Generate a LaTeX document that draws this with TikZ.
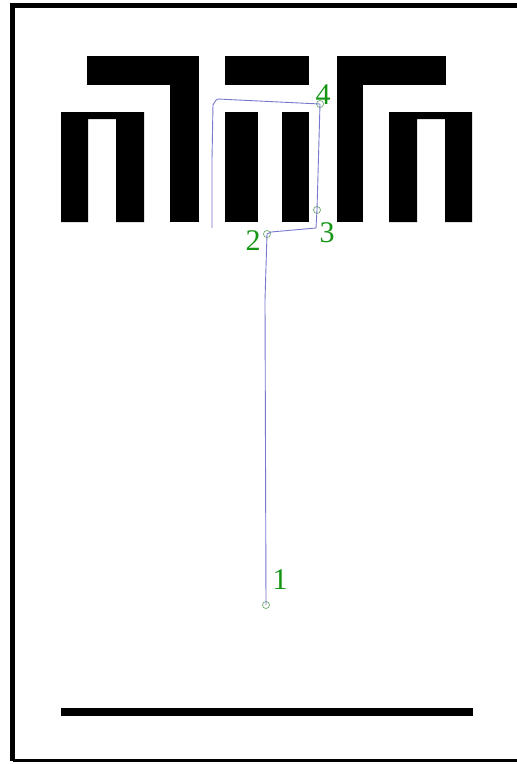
\documentclass[tikz,border=0pt]{standalone}
\usepackage{fontspec}
\setmainfont{Liberation Serif}
\begin{document}
\begin{tikzpicture}[x=1pt,y=-1pt,
  wall/.style={fill=black,draw=none},
  trace/.style={draw={rgb,255:red,120;green,120;blue,205},line width=0.9pt,line join=round},
  mark circ/.style={circle,draw={rgb,255:red,110;green,170;blue,110},line width=0.7pt,minimum size=7pt,inner sep=0pt},
  lab/.style={text={rgb,255:red,20;green,150;blue,20},font=\fontsize{30}{30}\selectfont,inner sep=0pt}]
\useasboundingbox (0,0) rectangle (517,764);
\fill[white] (0,0) rectangle (517,764);
% frame
\draw[line width=4.5pt] (12.5,761) -- (12.5,5.5) -- (517,5.5);
\draw[line width=3pt] (12.5,760) -- (517,760);
% left shape
\fill[wall] (87,56) rectangle (199,85);
\fill[wall] (170,56) rectangle (199,222);
\fill[wall] (61,112) -- (144,112) -- (144,222) -- (116,222) -- (116,119) -- (88,119) -- (88,222) -- (61,222) -- cycle;
% middle
\fill[wall] (225,56) rectangle (309,85);
\fill[wall] (225,112) rectangle (258,222);
\fill[wall] (282,112) rectangle (309,222);
% right shape
\fill[wall] (337,56) rectangle (446,85);
\fill[wall] (337,56) rectangle (363,222);
\fill[wall] (389,112) -- (472,112) -- (472,222) -- (445,222) -- (445,119) -- (417,119) -- (417,222) -- (389,222) -- cycle;
% bottom bar
\fill[wall] (61,708) rectangle (473,716);
% marks
\node[mark circ] (p1) at (266,605) {};
\node[mark circ] (p2) at (267,234) {};
\node[mark circ] (p3) at (317,210) {};
\node[mark circ] (p4) at (320,104) {};
\coordinate (s) at (212,228);
% trace
\draw[trace] (s) -- (212,160) -- (213,104) to[out=-90,in=180] (218,99) -- (p4.center) -- (p3.center) -- (316,228) -- (271,232) -- (p2.center) -- (265,300) -- (p1.center);
% labels
\node[lab] (l1) at (280,580) {1};
\node[lab] (l2) at (253,241) {2};
\node[lab] (l3) at (327,233) {3};
\node[lab] (l4) at (323,95) {4};
\end{tikzpicture}
\end{document}
